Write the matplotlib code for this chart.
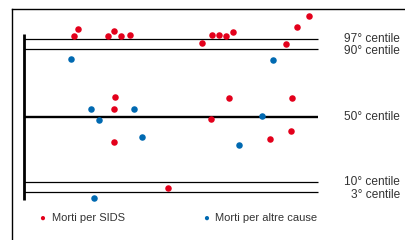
import matplotlib
matplotlib.use("Agg")
import matplotlib.pyplot as plt
from matplotlib.lines import Line2D

plt.rcParams['font.family'] = ['Liberation Sans', 'DejaVu Sans']

# Data (arbitrary units; y = position relative to 50th centile)
sids_x = [17.0, 18.4, 28.6, 30.6, 33.0, 36.1, 31.0, 30.6, 30.6, 49.0,
          60.5, 63.9, 66.3, 68.7, 71.1, 89.1, 92.9, 96.9, 69.7, 91.2,
          63.6, 83.7, 90.8]
sids_y = [8.07, 8.77, 8.07, 8.57, 8.07, 8.17, 1.97, 0.77, -2.53, -7.13,
          7.37, 8.17, 8.17, 8.07, 8.47, 7.27, 8.97, 10.07, 1.87, 1.87,
          -0.23, -2.23, -1.43]
other_x = [16.0, 22.8, 37.4, 25.5, 40.1, 23.8, 84.7, 81.0, 73.1]
other_y = [5.77, 0.77, 0.77, -0.33, -2.03, -8.13, 5.67, 0.07, -2.83]

centile_labels = ["97° centile", "90° centile", "50° centile", "10° centile", "3° centile"]
centile_pos = [7.77, 6.77, 0.0, -6.53, -7.53]
centile_label_pos = [7.77, 6.57, 0.0, -6.53, -7.83]

RED = '#e3001b'
BLUE = '#0069b1'
TXT = '#333333'

W, H = 405, 240
fig = plt.figure(figsize=(W / 100, H / 100), dpi=100)
ax = fig.add_axes([0, 0, 1, 1])
pxu_x = 2.94
pxu_y = 10.0
ax.set_xlim(-24 / pxu_x, (W - 24) / pxu_x)
ax.set_ylim((116.7 - H) / pxu_y, 116.7 / pxu_y)
ax.axis('off')

# outer frame
fig.add_artist(Line2D([12 / W, 12 / W], [-0.1, 1 - 9 / H], color='black', lw=1.0))
fig.add_artist(Line2D([12 / W, 1.1], [1 - 9 / H, 1 - 9 / H], color='black', lw=1.0))

# vertical axis
ax.plot([0, 0], [(116.7 - 200) / pxu_y, (116.7 - 34) / pxu_y], color='black', lw=2.0,
        solid_capstyle='butt')

# centile lines
for lab, yp, yl in zip(centile_labels, centile_pos, centile_label_pos):
    lw = 1.7 if lab.startswith("50") else 0.9
    ax.plot([0, 100], [yp, yp], color='black', lw=lw, solid_capstyle='butt')
    ax.text(128.0, yl, lab, ha='right', va='center', fontsize=8.6, color=TXT)

ax.scatter(sids_x, sids_y, s=22, color=RED, zorder=3, linewidths=0, clip_on=False)
ax.scatter(other_x, other_y, s=22, color=BLUE, zorder=3, linewidths=0, clip_on=False)

# legend
fig.text(42 / W, 1 - 218 / H, "●", color=RED, fontsize=7, ha='center', va='center')
fig.text(52 / W, 1 - 218 / H, "Morti per SIDS", color=TXT, fontsize=8, ha='left', va='center')
fig.text(206 / W, 1 - 218 / H, "●", color=BLUE, fontsize=7, ha='center', va='center')
fig.text(215 / W, 1 - 218 / H, "Morti per altre cause", color=TXT, fontsize=8, ha='left', va='center')

fig.savefig("out.png", dpi=100)
